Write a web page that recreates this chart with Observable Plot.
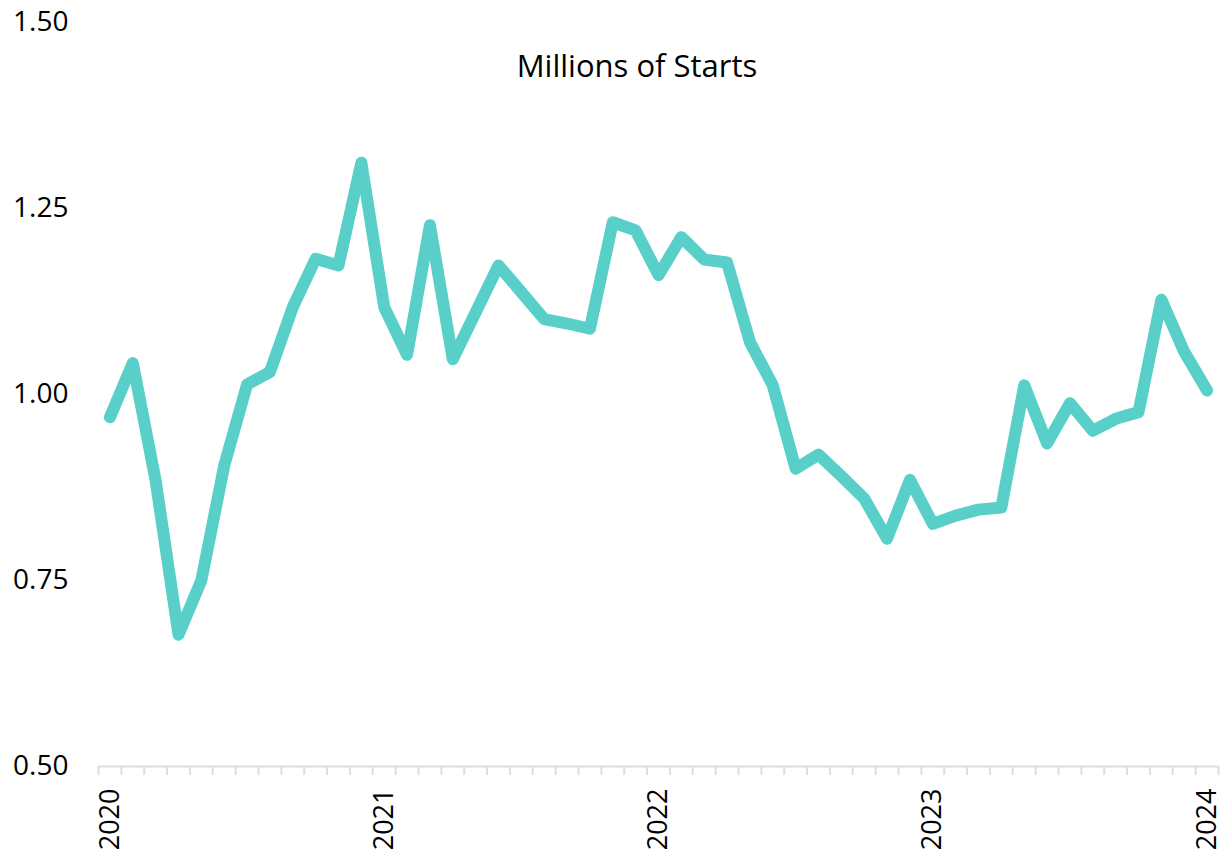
<!DOCTYPE html>
<html><head><meta charset="utf-8">
<script src="https://cdn.jsdelivr.net/npm/d3@7"></script>
<script src="https://cdn.jsdelivr.net/npm/@observablehq/plot@0.6"></script>
<style>
body{margin:0;background:#fff;}
#wrap{position:relative;width:1220px;height:854px;}
#title{position:absolute;top:49.5px;left:637px;transform:translateX(-50%);font:31px/1 "Open Sans";white-space:nowrap;color:#000;}
</style></head><body>
<div id="wrap"><div id="title"></div></div>
<script>
const title = "Millions of Starts";
// monthly values, Jan 2020 .. Jan 2024 (millions of starts)
const values = [
  0.969, 1.042, 0.884, 0.677, 0.750, 0.904, 1.013, 1.030, 1.117, 1.182, 1.173, 1.311,
  1.117, 1.053, 1.227, 1.047, 1.110, 1.173, 1.137, 1.101, 1.095, 1.088, 1.231, 1.220,
  1.160, 1.211, 1.181, 1.177, 1.070, 1.012, 0.900, 0.919, 0.890, 0.860, 0.806, 0.885,
  0.826, 0.837, 0.845, 0.848, 1.012, 0.934, 0.988, 0.951, 0.967, 0.976, 1.127, 1.057,
  1.005
];
const yearLabels = ["2020", "2021", "2022", "2023", "2024"];
const yearMonthIndex = [0, 12, 24, 36, 48];
const yTicks = [0.5, 0.75, 1.0, 1.25, 1.5];

document.getElementById("title").textContent = title;
const data = values.map((v, i) => ({i, v}));
const boundaries = d3.range(values.length + 1).map(k => k - 0.5);

const chart = Plot.plot({
  width: 1220, height: 854,
  marginTop: 21.5, marginBottom: 88, marginLeft: 98, marginRight: 2,
  style: {fontFamily: "Open Sans", background: "transparent", color: "#000"},
  x: {domain: [-0.5, values.length - 0.5], axis: null},
  y: {domain: [0.5, 1.5], axis: null},
  marks: [
    Plot.axisY(yTicks, {tickSize: 0, tickPadding: 30, tickFormat: d => d.toFixed(2), fontSize: 28, label: null}),
    Plot.ruleY([0.5], {stroke: "#d9dee6", strokeWidth: 2}),
    Plot.axisX(boundaries, {tickSize: 9, stroke: "#d9dee6", strokeWidth: 2, tickFormat: () => "", label: null}),
    Plot.axisX(yearMonthIndex, {tickSize: 0, tickPadding: 22, tickRotate: -90, fontSize: 27, label: null,
      tickFormat: d => yearLabels[yearMonthIndex.indexOf(d)]}),
    Plot.line(data, {x: "i", y: "v", stroke: "#58cfc8", strokeWidth: 12, strokeLinecap: "round", strokeLinejoin: "round"})
  ]
});
document.getElementById("wrap").appendChild(chart);
</script>
</body></html>
